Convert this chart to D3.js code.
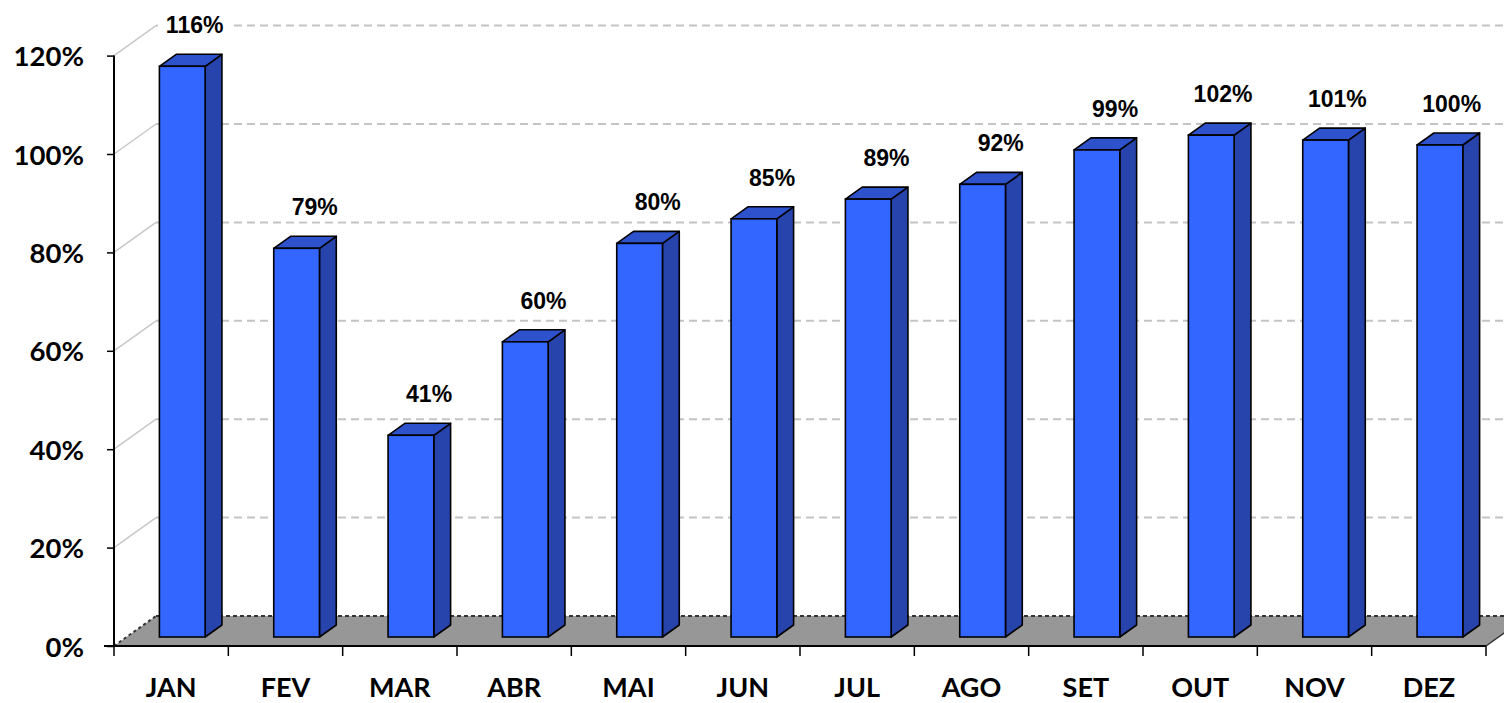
<!DOCTYPE html>
<html>
<head>
<meta charset="utf-8">
<script src="https://cdn.jsdelivr.net/npm/d3@7"></script>
<style>
  html, body { margin: 0; padding: 0; background: #fff; }
  svg { display: block; }
</style>
</head>
<body>
<svg id="chart" width="1504" height="703"></svg>
<script>
// Monthly values (%)
const months = ["JAN", "FEV", "MAR", "ABR", "MAI", "JUN", "JUL", "AGO", "SET", "OUT", "NOV", "DEZ"];
const values = [116, 79, 41, 60, 80, 85, 89, 92, 99, 102, 101, 100];
const yTicks = [0, 20, 40, 60, 80, 100, 120];

const W = 1504, H = 703;
const plot = { left: 114, right: 1486, bottom: 646, top: 55.6 };
// Oblique projection of the depth axis
const depthX = 42, depthY = -30;
const frontDepth = 0.3, backDepth = 0.7;

const svg = d3.select("#chart");

const x = d3.scaleBand().domain(months).range([plot.left, plot.right]).padding(0);
const y = d3.scaleLinear().domain([0, 120]).range([plot.bottom, plot.top]);
const barW = x.bandwidth() * 0.4;

// Back wall gridlines
svg.append("g").selectAll("line")
  .data(yTicks.filter(t => t > 0))
  .join("line")
  .attr("x1", plot.left + depthX)
  .attr("x2", W + 60)
  .attr("y1", d => y(d) + depthY)
  .attr("y2", d => y(d) + depthY)
  .attr("stroke", "#c4c4c4")
  .attr("stroke-width", 2)
  .attr("stroke-dasharray", "8,5");

// Side wall gridlines
svg.append("g").selectAll("line")
  .data(yTicks.filter(t => t > 0))
  .join("line")
  .attr("x1", plot.left)
  .attr("y1", d => y(d))
  .attr("x2", plot.left + depthX)
  .attr("y2", d => y(d) + depthY)
  .attr("stroke", "#c8c8c8")
  .attr("stroke-width", 1.5);

// Floor
const y0 = y(0);
svg.append("polygon")
  .attr("points", [
    [plot.left, y0], [plot.right, y0],
    [plot.right + depthX, y0 + depthY], [plot.left + depthX, y0 + depthY]
  ].map(p => p.join(",")).join(" "))
  .attr("fill", "#979797");
svg.append("line")
  .attr("x1", plot.left + depthX).attr("y1", y0 + depthY)
  .attr("x2", plot.right + depthX).attr("y2", y0 + depthY)
  .attr("stroke", "#333").attr("stroke-width", 2).attr("stroke-dasharray", "4,3");
svg.append("line")
  .attr("x1", plot.left).attr("y1", y0)
  .attr("x2", plot.left + depthX).attr("y2", y0 + depthY)
  .attr("stroke", "#333").attr("stroke-width", 2).attr("stroke-dasharray", "3,3");
svg.append("line")
  .attr("x1", plot.right).attr("y1", y0)
  .attr("x2", plot.right + depthX).attr("y2", y0 + depthY)
  .attr("stroke", "#333").attr("stroke-width", 1.5);

// 3D bars
const bars = svg.append("g").selectAll("g")
  .data(months.map((m, i) => ({ m, v: values[i] })))
  .join("g");

function barGeom(d) {
  const cx = x(d.m) + x.bandwidth() / 2 - 1.5;
  const fx = cx - barW / 2 + depthX * frontDepth;
  const fyBottom = y(0) + depthY * frontDepth;
  const fyTop = y(d.v) + depthY * frontDepth;
  const ddx = depthX * (backDepth - frontDepth);
  const ddy = depthY * (backDepth - frontDepth);
  return { fx, fyBottom, fyTop, ddx, ddy };
}

bars.append("polygon") // side face
  .attr("points", d => {
    const g = barGeom(d);
    const r = g.fx + barW;
    return [[r, g.fyTop], [r + g.ddx, g.fyTop + g.ddy], [r + g.ddx, g.fyBottom + g.ddy], [r, g.fyBottom]]
      .map(p => p.join(",")).join(" ");
  })
  .attr("fill", "#2744ad")
  .attr("stroke", "#000").attr("stroke-width", 1.6).attr("stroke-linejoin", "round");

bars.append("polygon") // top face
  .attr("points", d => {
    const g = barGeom(d);
    return [[g.fx, g.fyTop], [g.fx + g.ddx, g.fyTop + g.ddy], [g.fx + barW + g.ddx, g.fyTop + g.ddy], [g.fx + barW, g.fyTop]]
      .map(p => p.join(",")).join(" ");
  })
  .attr("fill", "#2d52cc")
  .attr("stroke", "#000").attr("stroke-width", 1.6).attr("stroke-linejoin", "round");

bars.append("rect") // front face
  .attr("x", d => barGeom(d).fx)
  .attr("y", d => barGeom(d).fyTop)
  .attr("width", barW)
  .attr("height", d => { const g = barGeom(d); return g.fyBottom - g.fyTop; })
  .attr("fill", "#3366ff")
  .attr("stroke", "#000").attr("stroke-width", 1.6);

// Y axis
const yAxis = svg.append("g")
  .attr("transform", `translate(${plot.left},0)`)
  .call(d3.axisLeft(y).tickValues(yTicks).tickSize(7).tickFormat(d => d + "%"));
yAxis.select(".domain").attr("stroke", "#000").attr("stroke-width", 2).attr("d", `M0,${plot.top}V${plot.bottom}`);
yAxis.selectAll(".tick line").attr("stroke", "#000").attr("stroke-width", 1.5);
yAxis.selectAll(".tick text")
  .attr("x", -30)
  .attr("dy", "0.37em")
  .style("font-family", "Lato, sans-serif")
  .style("font-weight", "bold")
  .style("font-size", "27.5px")
  .attr("fill", "#000");

// X axis
const xAxis = svg.append("g")
  .attr("transform", `translate(0,${plot.bottom})`)
  .call(d3.axisBottom(x).tickSize(0).tickPadding(0));
xAxis.select(".domain").attr("stroke", "#000").attr("stroke-width", 2).attr("d", `M${plot.left - 10},0H${plot.right}`);
xAxis.selectAll(".tick text")
  .attr("y", 50.5)
  .attr("dy", 0)
  .style("font-family", "Lato, sans-serif")
  .style("font-weight", "bold")
  .style("font-size", "27px")
  .attr("fill", "#000");
const boundaries = months.map(m => x(m)).concat([plot.right]);
xAxis.append("g").selectAll("line")
  .data(boundaries)
  .join("line")
  .attr("x1", d => d).attr("x2", d => d)
  .attr("y1", 0).attr("y2", 10)
  .attr("stroke", "#000").attr("stroke-width", 1.5);

// Value labels on white boxes, right-aligned with each bar's side face
const labels = svg.append("g").selectAll("g")
  .data(months.map((m, i) => ({ m, v: values[i] })))
  .join("g")
  .attr("transform", d => {
    const g = barGeom(d);
    return `translate(${g.fx + barW + g.ddx + 1.5},${g.fyTop + g.ddy - 21})`;
  });
labels.append("text")
  .attr("text-anchor", "end")
  .style("font-family", "'Liberation Sans', Arial, sans-serif")
  .style("font-weight", "bold")
  .style("font-size", "23px")
  .attr("fill", "#000")
  .text(d => d.v + "%");
labels.each(function () {
  const g = d3.select(this);
  const bb = g.select("text").node().getBBox();
  g.insert("rect", "text")
    .attr("x", bb.x - 8)
    .attr("y", bb.y - 2)
    .attr("width", bb.width + 16)
    .attr("height", bb.height + 3)
    .attr("fill", "#fff");
});
</script>
</body>
</html>
